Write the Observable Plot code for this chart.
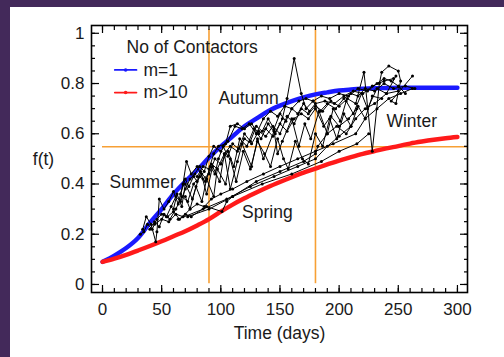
<!DOCTYPE html>
<html><head><meta charset="utf-8">
<script src="https://cdn.jsdelivr.net/npm/d3@7"></script>
<script src="https://cdn.jsdelivr.net/npm/@observablehq/plot@0.6"></script>
<style>
html,body{margin:0;padding:0;}
body{width:504px;height:357px;overflow:hidden;background:#43295a;position:relative;font-family:"Liberation Sans",Arial,sans-serif;}
#panel{position:absolute;left:10px;top:7px;width:494px;height:350px;background:#fff;}
</style></head>
<body><div id="panel"></div>
<script>
// ---- data ----
const days = [0,10,20,30,40,50,60,70,80,90,100,110,120,130,140,150,160,170,180,190,200,210,220,230,240,250,260,270,280,290,300];
const m1 = [0.090,0.115,0.145,0.185,0.245,0.300,0.360,0.410,0.455,0.505,0.550,0.590,0.630,0.660,0.690,0.712,0.730,0.745,0.757,0.765,0.772,0.776,0.779,0.781,0.782,0.783,0.783,0.783,0.783,0.783,0.783];
const m10 = [0.090,0.103,0.118,0.135,0.153,0.172,0.192,0.212,0.235,0.260,0.290,0.318,0.343,0.366,0.388,0.408,0.427,0.445,0.461,0.478,0.493,0.507,0.520,0.531,0.542,0.551,0.561,0.569,0.576,0.582,0.587];

const trajA = [[32,0.20],[35,0.21],[38,0.24],[42,0.22],[46,0.26],[50,0.28],[54,0.27],[58,0.31],[62,0.35],[66,0.33],[70,0.38],[74,0.42],[78,0.44],[82,0.47],[86,0.45],[90,0.51],[94,0.55],[100,0.53],[106,0.57],[112,0.63],[118,0.62],[124,0.64],[130,0.60],[136,0.66],[142,0.69],[148,0.67],[154,0.71],[160,0.70],[166,0.73],[172,0.74],[178,0.73],[185,0.75],[192,0.74],[200,0.76],[208,0.75],[216,0.78],[224,0.77],[232,0.80],[238,0.82],[244,0.81],[250,0.79],[256,0.76]];
const trajB = [[34,0.22],[37,0.27],[41,0.24],[45,0.17],[46,0.21],[48,0.34],[52,0.30],[56,0.33],[60,0.37],[64,0.32],[68,0.40],[71,0.49],[75,0.44],[80,0.47],[85,0.42],[90,0.44],[95,0.50],[100,0.48],[106,0.53],[111,0.47],[116,0.58],[122,0.55],[128,0.62],[134,0.58],[140,0.64],[146,0.60],[152,0.66],[156,0.74],[162,0.90],[168,0.76],[172,0.70],[178,0.73],[184,0.69],[190,0.72],[197,0.70],[204,0.74],[210,0.76],[216,0.75],[222,0.78],[230,0.77],[238,0.80],[246,0.78],[256,0.79],[264,0.78]];
const trajC = [[40,0.22],[44,0.25],[48,0.23],[52,0.28],[57,0.26],[62,0.30],[67,0.35],[72,0.33],[77,0.40],[82,0.43],[87,0.41],[92,0.48],[97,0.46],[103,0.52],[108,0.55],[114,0.53],[120,0.58],[126,0.56],[132,0.61],[138,0.59],[144,0.63],[150,0.60],[156,0.67],[162,0.64],[168,0.70],[174,0.68],[180,0.71],[186,0.69],[193,0.73],[200,0.71],[207,0.74],[214,0.72],[221,0.845],[228,0.53],[234,0.80],[236,0.845],[242,0.87],[250,0.85],[252,0.81],[248,0.72],[244,0.73],[262,0.83]];
const trajD = [[44,0.24],[50,0.26],[56,0.25],[62,0.28],[68,0.27],[74,0.30],[80,0.32],[86,0.31],[92,0.34],[100,0.36],[110,0.38],[122,0.41],[136,0.44],[150,0.47],[165,0.50],[180,0.53],[195,0.56],[214,0.60],[222,0.66],[232,0.70],[242,0.74],[252,0.76],[262,0.78]];
const trajE = [[55,0.27],[60,0.29],[65,0.26],[70,0.28],[75,0.27],[88,0.31],[101,0.29],[105,0.33],[110,0.35],[130,0.41],[150,0.45],[170,0.49],[180,0.52],[182,0.55],[190,0.60],[198,0.63],[206,0.60],[214,0.66],[222,0.70],[230,0.72],[240,0.76],[250,0.77]];
const trajF = [[60,0.30],[63,0.36],[67,0.31],[70,0.40],[76,0.34],[83,0.45],[88,0.36],[93,0.47],[99,0.41],[103,0.52],[108,0.38],[114,0.49],[118,0.56],[126,0.47],[131,0.58],[136,0.50],[145,0.61],[148,0.52],[152,0.57],[160,0.66],[166,0.55],[171,0.64],[176,0.58],[183,0.69],[190,0.60],[195,0.70],[201,0.65],[206,0.73],[212,0.68],[219,0.76],[224,0.70],[232,0.78],[240,0.76],[248,0.83]];
const trajG = [[66,0.36],[70,0.42],[73,0.39],[77,0.43],[80,0.41],[84,0.44],[88,0.42],[91,0.47],[95,0.44],[98,0.50],[102,0.55],[106,0.51],[110,0.56],[115,0.54],[120,0.60],[125,0.57],[130,0.63],[135,0.61],[140,0.66],[145,0.62],[150,0.68],[155,0.65],[160,0.70],[165,0.68],[170,0.72],[175,0.69],[180,0.72],[188,0.73],[196,0.72],[204,0.75],[212,0.77],[220,0.76],[228,0.79],[238,0.81],[246,0.82]];
const trajH = [[70,0.35],[74,0.30],[79,0.39],[84,0.33],[88,0.42],[94,0.35],[97,0.46],[104,0.40],[108,0.50],[113,0.41],[119,0.53],[125,0.46],[131,0.57],[137,0.52],[142,0.47],[148,0.58],[153,0.50],[157,0.46],[163,0.57],[169,0.50],[174,0.48],[180,0.60],[186,0.55],[192,0.66],[198,0.58],[204,0.68],[210,0.63],[216,0.71],[222,0.66],[228,0.75],[236,0.74]];
const trajI = [[80,0.43],[85,0.47],[90,0.46],[94,0.52],[98,0.55],[104,0.56],[108,0.63],[114,0.64],[120,0.62],[126,0.64],[132,0.60],[138,0.62],[144,0.59],[150,0.64],[156,0.61],[162,0.66],[168,0.68],[174,0.66],[180,0.70],[187,0.63],[193,0.67],[200,0.63],[208,0.66],[215,0.70]];
const trajJ = [[72,0.27],[90,0.30],[110,0.35],[135,0.40],[160,0.44],[185,0.49],[200,0.53],[215,0.56],[225,0.60]];
const trajK = [[64,0.26],[85,0.30],[105,0.34],[125,0.39],[145,0.43],[165,0.47],[180,0.50],[190,0.55],[200,0.59],[210,0.63]];
const trajectories = [trajA,trajB,trajC,trajD,trajE,trajF,trajG,trajH,trajI,trajJ,trajK];

const seasonBounds = [90, 180];
const threshold = 0.548;
const seasonNames = ["Summer","Autumn","Winter","Spring"];
const seasonX = [6, 98, 240, 118];
const seasonY = [0.408, 0.739, 0.65, 0.286];

const xTicks = [0,50,100,150,200,250,300];
const xMinor = d3.range(0, 301, 10);
const yTicks = [0,0.2,0.4,0.6,0.8,1];
const yTickLabels = ["0","0.2","0.4","0.6","0.8","1"];
const yMinor = d3.range(0, 21).map(i => i * 0.05);

const legendTitle = "No of Contactors";
const legendNames = ["m=1","m>10"];
const legendColors = ["#1a1aff","#ff1a1a"];
const legendX = [10.4, 28.7];
const legendTextX = 34.6;
const legendY = [0.854, 0.764];
const legendTitlePos = [20.3, 0.944];

// ---- build tables ----
const curveRows = days.flatMap((d,i) => [{t:d, v:m1[i], s:"m=1"}, {t:d, v:m10[i], s:"m>10"}]);
const trajRows = trajectories.flatMap((tr, k) => tr.map(([t,v]) => ({t, v, k})));
const legendRows = legendNames.flatMap((n,i) => legendX.map(x => ({t:x, v:legendY[i], s:n})));
const legendDots = legendNames.map((n,i) => ({t:(legendX[0]+legendX[1])/2, v:legendY[i], s:n}));
const labels = seasonNames.map((n,i) => ({n, t:seasonX[i], v:seasonY[i]}));

const txt = "#1a1a1a";
const fs = 17.5;
const tfs = 17;
const noText = () => "";

const chart = Plot.plot({
  width: 494, height: 350,
  marginLeft: 81, marginRight: 37, marginTop: 18, marginBottom: 65,
  style: {fontFamily: '"Liberation Sans", Arial, sans-serif', background: "transparent", color: txt},
  x: {domain: [-9.3, 308.5]},
  y: {domain: [-0.032, 1.031]},
  color: {domain: legendNames, range: legendColors},
  marks: [
    Plot.ruleX(seasonBounds, {x: d => d, y1: 0.003, y2: 1.015, stroke: "#f7a035", strokeWidth: 1.6}),
    Plot.ruleY([threshold], {y: d => d, x1: 0, x2: 308.5, stroke: "#f7a035", strokeWidth: 1.6}),
    Plot.line(curveRows, {x: "t", y: "v", stroke: "s", z: "s", strokeWidth: 4.4, curve: "monotone-x"}),
    Plot.line(trajRows, {x: "t", y: "v", z: "k", stroke: "#000", strokeWidth: 1}),
    Plot.dot(trajRows, {x: "t", y: "v", r: 1.5, fill: "#000"}),
    Plot.text(labels, {x: "t", y: "v", text: "n", textAnchor: "start", fontSize: fs, fill: txt}),
    Plot.text([legendTitle], {x: legendTitlePos[0], y: legendTitlePos[1], text: d => d, textAnchor: "start", fontSize: fs, fill: txt}),
    Plot.line(legendRows, {x: "t", y: "v", z: "s", stroke: "s", strokeWidth: 1.8}),
    Plot.dot(legendDots, {x: "t", y: "v", fill: "s", r: 1.8}),
    Plot.text(legendNames.map((n,i) => ({n, v: legendY[i]})), {x: legendTextX, y: "v", text: "n", textAnchor: "start", fontSize: fs, fill: txt}),
    // tick labels
    Plot.axisX(xTicks, {anchor: "bottom", tickSize: 0, tickPadding: 10, fontSize: tfs, label: null, fill: txt, tickFormat: d => String(d)}),
    Plot.axisY(yTicks, {anchor: "left", tickSize: 0, tickPadding: 7, fontSize: tfs, label: null, fill: txt, tickFormat: (d,i) => yTickLabels[i]}),
    // inward ticks
    Plot.axisX(xTicks, {anchor: "bottom", tickSize: -7, tickFormat: noText, label: null, stroke: "#000", strokeWidth: 1.2}),
    Plot.axisX(xMinor, {anchor: "bottom", tickSize: -4, tickFormat: noText, label: null, stroke: "#000", strokeWidth: 1.2}),
    Plot.axisX(xTicks, {anchor: "top", tickSize: -7, tickFormat: noText, label: null, stroke: "#000", strokeWidth: 1.2}),
    Plot.axisX(xMinor, {anchor: "top", tickSize: -4, tickFormat: noText, label: null, stroke: "#000", strokeWidth: 1.2}),
    Plot.axisY(yTicks, {anchor: "left", tickSize: -8, tickFormat: noText, label: null, stroke: "#000", strokeWidth: 1.2}),
    Plot.axisY(yMinor, {anchor: "left", tickSize: -4, tickFormat: noText, label: null, stroke: "#000", strokeWidth: 1.2}),
    Plot.axisY(yTicks, {anchor: "right", tickSize: -8, tickFormat: noText, label: null, stroke: "#000", strokeWidth: 1.2}),
    Plot.axisY(yMinor, {anchor: "right", tickSize: -4, tickFormat: noText, label: null, stroke: "#000", strokeWidth: 1.2}),
    Plot.frame({stroke: "#000", strokeWidth: 1.6}),
    Plot.text(["f(t)"], {frameAnchor: "left", dx: -48, text: d => d, textAnchor: "middle", fontSize: fs, fill: txt}),
    Plot.text(["Time (days)"], {frameAnchor: "bottom", dy: 41, text: d => d, textAnchor: "middle", lineAnchor: "middle", fontSize: fs, fill: txt})
  ]
});
document.getElementById("panel").appendChild(chart);
</script>
</body></html>
